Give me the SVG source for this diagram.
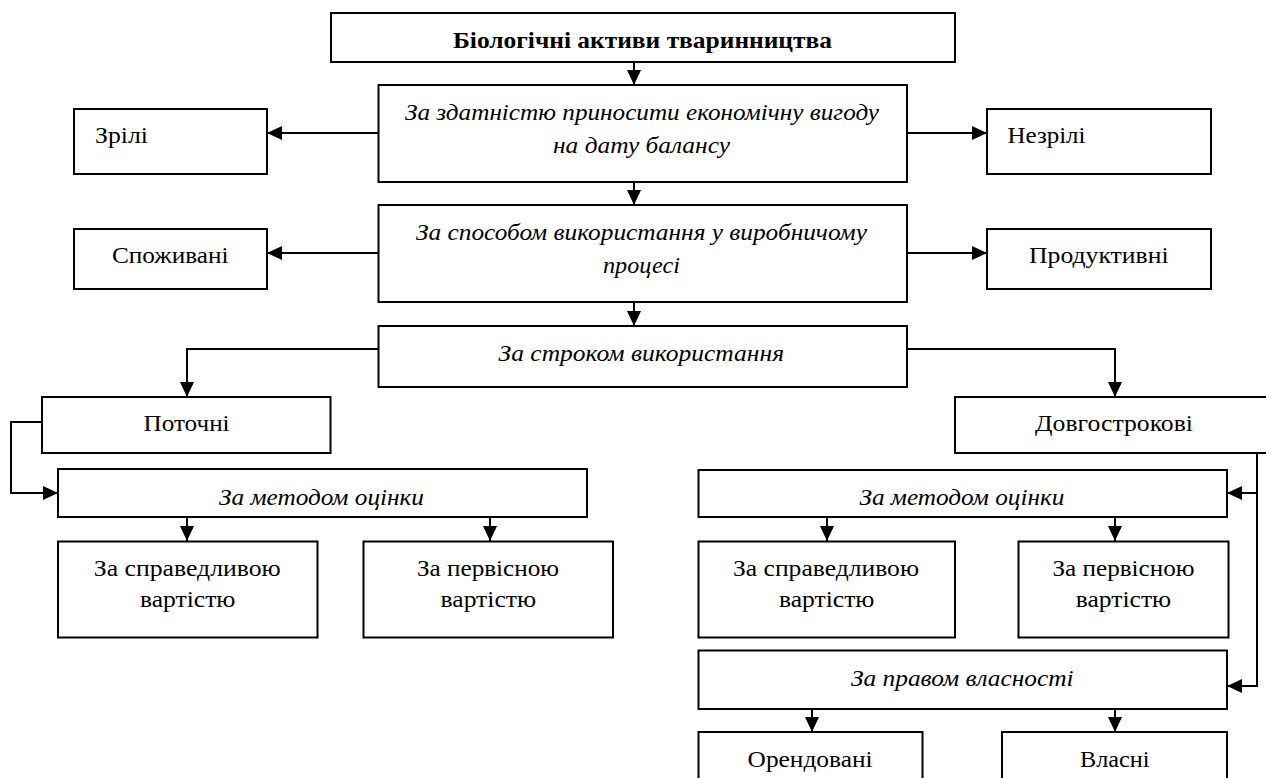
<svg xmlns="http://www.w3.org/2000/svg" width="1266" height="778" viewBox="0 0 1266 778">
  <defs>
    <marker id="arrow" markerUnits="userSpaceOnUse" markerWidth="15" markerHeight="14" refX="15" refY="7" orient="auto">
      <path d="M0,0 L15,7 L0,14 z" fill="#000"/>
    </marker>
    <style>
      .box { fill: #fff; stroke: #000; stroke-width: 2; }
      .lbl { font-family: "Liberation Serif", "DejaVu Serif", serif; font-size: 24px; fill: #000; }
      .it { font-style: italic; }
      .bd { font-weight: bold; }
      .conn { fill: none; stroke: #000; stroke-width: 2; marker-end: url(#arrow); }
    </style>
  </defs>
  <rect width="1266" height="778" fill="#fff"/>

  <g id="connectors">
    <path class="conn" d="M634,62 V85"/>
    <path class="conn" d="M378,133 H267"/>
    <path class="conn" d="M907,133 H987"/>
    <path class="conn" d="M634,182 V205"/>
    <path class="conn" d="M378,253 H267"/>
    <path class="conn" d="M907,253 H987"/>
    <path class="conn" d="M634,302 V326"/>
    <path class="conn" d="M378,349 H187 V397"/>
    <path class="conn" d="M907,349 H1115 V397"/>
    <path class="conn" d="M42,422 H11 V493 H58"/>
    <path class="conn" d="M187,517 V541"/>
    <path class="conn" d="M490,517 V541"/>
    <path class="conn" d="M1257,453 V493 H1227"/>
    <path class="conn" d="M1257,453 V686 H1227"/>
    <path class="conn" d="M827,517 V541"/>
    <path class="conn" d="M1115,517 V541"/>
    <path class="conn" d="M812,709 V732"/>
    <path class="conn" d="M1115,709 V732"/>
  </g>

  <g id="root">
    <rect class="box" x="331" y="13" width="624" height="49"/>
    <text class="lbl bd" x="453" y="48" textLength="379" lengthAdjust="spacingAndGlyphs">Біологічні активи тваринництва</text>
  </g>

  <g id="by-benefit">
    <rect class="box" x="378.5" y="85" width="528.5" height="97"/>
    <text class="lbl it" x="405" y="120" textLength="474" lengthAdjust="spacingAndGlyphs">За здатністю приносити економічну вигоду</text>
    <text class="lbl it" x="553" y="153" textLength="177" lengthAdjust="spacingAndGlyphs">на дату балансу</text>
  </g>

  <g id="mature">
    <rect class="box" x="74" y="109" width="193" height="65"/>
    <text class="lbl" x="95" y="143" textLength="53" lengthAdjust="spacingAndGlyphs">Зрілі</text>
  </g>

  <g id="immature">
    <rect class="box" x="987" y="109" width="224" height="65"/>
    <text class="lbl" x="1007.5" y="143" textLength="78" lengthAdjust="spacingAndGlyphs">Незрілі</text>
  </g>

  <g id="by-use">
    <rect class="box" x="378.5" y="205" width="528.5" height="97"/>
    <text class="lbl it" x="416" y="240" textLength="451" lengthAdjust="spacingAndGlyphs">За способом використання у виробничому</text>
    <text class="lbl it" x="603" y="273" textLength="77" lengthAdjust="spacingAndGlyphs">процесі</text>
  </g>

  <g id="consumable">
    <rect class="box" x="74" y="229" width="193" height="60"/>
    <text class="lbl" x="112" y="263" textLength="116.5" lengthAdjust="spacingAndGlyphs">Споживані</text>
  </g>

  <g id="productive">
    <rect class="box" x="987" y="229" width="224" height="60"/>
    <text class="lbl" x="1029" y="263" textLength="139.6" lengthAdjust="spacingAndGlyphs">Продуктивні</text>
  </g>

  <g id="by-term">
    <rect class="box" x="378.5" y="326" width="528.5" height="61"/>
    <text class="lbl it" x="498.6" y="361" textLength="285.4" lengthAdjust="spacingAndGlyphs">За строком використання</text>
  </g>

  <g id="current">
    <rect class="box" x="42" y="397" width="288.5" height="56"/>
    <text class="lbl" x="143.6" y="431" textLength="86" lengthAdjust="spacingAndGlyphs">Поточні</text>
  </g>

  <g id="long-term">
    <rect class="box" x="955" y="397" width="318" height="56"/>
    <text class="lbl" x="1035" y="431" textLength="158" lengthAdjust="spacingAndGlyphs">Довгострокові</text>
  </g>

  <g id="current-valuation">
    <rect class="box" x="58" y="469" width="529" height="48"/>
    <text class="lbl it" x="219" y="505" textLength="205" lengthAdjust="spacingAndGlyphs">За методом оцінки</text>
  </g>

  <g id="current-fair-value">
    <rect class="box" x="58" y="541.5" width="259.5" height="96"/>
    <text class="lbl" x="93.8" y="576" textLength="187" lengthAdjust="spacingAndGlyphs">За справедливою</text>
    <text class="lbl" x="140" y="607" textLength="95.4" lengthAdjust="spacingAndGlyphs">вартістю</text>
  </g>

  <g id="current-historical-cost">
    <rect class="box" x="363.5" y="541.5" width="249.5" height="96"/>
    <text class="lbl" x="417" y="576" textLength="142" lengthAdjust="spacingAndGlyphs">За первісною</text>
    <text class="lbl" x="440.6" y="607" textLength="95.4" lengthAdjust="spacingAndGlyphs">вартістю</text>
  </g>

  <g id="long-term-valuation">
    <rect class="box" x="698.5" y="470" width="528.5" height="47"/>
    <text class="lbl it" x="859.4" y="505" textLength="205" lengthAdjust="spacingAndGlyphs">За методом оцінки</text>
  </g>

  <g id="long-term-fair-value">
    <rect class="box" x="698.5" y="541.5" width="256.5" height="96"/>
    <text class="lbl" x="733" y="576" textLength="186" lengthAdjust="spacingAndGlyphs">За справедливою</text>
    <text class="lbl" x="779" y="607" textLength="95.4" lengthAdjust="spacingAndGlyphs">вартістю</text>
  </g>

  <g id="long-term-historical-cost">
    <rect class="box" x="1018.5" y="541.5" width="210" height="96"/>
    <text class="lbl" x="1052.5" y="576" textLength="142" lengthAdjust="spacingAndGlyphs">За первісною</text>
    <text class="lbl" x="1075.8" y="607" textLength="95.4" lengthAdjust="spacingAndGlyphs">вартістю</text>
  </g>

  <g id="by-ownership">
    <rect class="box" x="698.5" y="650.5" width="528.5" height="58.5"/>
    <text class="lbl it" x="851" y="686" textLength="222.6" lengthAdjust="spacingAndGlyphs">За правом власності</text>
  </g>

  <g id="leased">
    <rect class="box" x="698.5" y="732" width="224" height="60"/>
    <text class="lbl" x="747.6" y="767" textLength="125" lengthAdjust="spacingAndGlyphs">Орендовані</text>
  </g>

  <g id="owned">
    <rect class="box" x="1002" y="732" width="225" height="60"/>
    <text class="lbl" x="1080" y="767" textLength="69.5" lengthAdjust="spacingAndGlyphs">Власні</text>
  </g>
</svg>
